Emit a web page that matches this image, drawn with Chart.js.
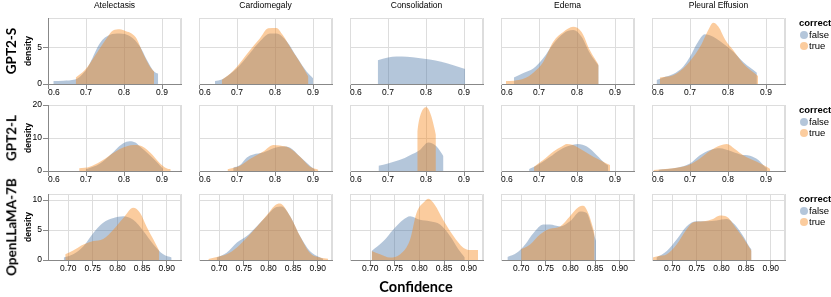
<!DOCTYPE html>
<html>
<head>
<meta charset="utf-8">
<script src="https://cdn.jsdelivr.net/npm/chart.js@4.4.1/dist/chart.umd.min.js"></script>
<style>
  body { margin:0; background:#fff; }
  #wrap { position:relative; width:831px; height:297px; overflow:hidden; font-family:'Liberation Sans', Arial, sans-serif; }
  #wrap canvas { position:absolute; }
  .txt { position:absolute; white-space:nowrap; color:#000; line-height:1; transform:translate(-50%,-50%); }
  .col-title { font-size:8.5px; }
  .row-title { font-family:Lato, 'Open Sans', sans-serif; font-weight:bold; font-size:13.5px; transform:translate(-50%,-50%) rotate(-90deg); }
  .x-title { font-family:Lato, 'Open Sans', sans-serif; font-weight:bold; font-size:14.5px; }
  .leg-title { font-weight:bold; font-size:9.5px; transform:translate(0,-50%); }
  .leg-label { font-size:9.5px; transform:translate(0,-50%); }
  .leg-dot { position:absolute; width:8px; height:8px; border-radius:50%; transform:translate(-50%,-50%); }
</style>
</head>
<body>
<div id="wrap"></div>
<script>
// rows / columns
const models = ['GPT2-S', 'GPT2-L', 'OpenLLaMA-7B'];
const findings = ['Atelectasis', 'Cardiomegaly', 'Consolidation', 'Edema', 'Pleural Effusion'];

// axes
const gpt2XRange = [0.6, 0.95];
const llamaXRange = [0.659, 0.929];
const gpt2XTicks = [0.6, 0.7, 0.8, 0.9];
const llamaXTicks = [0.70, 0.75, 0.80, 0.85, 0.90];
const yMaxByRow = [9, 20, 11];
const gpt2sYTicks = [0, 5];
const gpt2lYTicks = [0, 10, 20];
const llamaYTicks = [0, 5, 10];

// density curves, [confidence, density]
// GPT2-S
const gpt2sAtelFalse = [[0.614,0.4],[0.64,0.45],[0.671,0.6],[0.697,1.7],[0.71,2.8],[0.737,5.6],[0.763,6.7],[0.789,6.9],[0.816,6.5],[0.842,5.1],[0.86,3.3],[0.879,1.7],[0.89,1.4]];
const gpt2sAtelTrue = [[0.673,0.9],[0.697,1.9],[0.728,4.2],[0.754,6.2],[0.771,7.3],[0.789,7.45],[0.805,7.2],[0.82,6.9],[0.833,6.2],[0.85,4.2],[0.868,2.4],[0.879,1.7]];
const gpt2sCardFalse = [[0.642,0.4],[0.66,0.6],[0.69,1.7],[0.708,2.6],[0.734,4.2],[0.76,5.8],[0.787,6.9],[0.804,6.9],[0.831,5.8],[0.857,3.7],[0.883,1.7],[0.9,0.8]];
const gpt2sCardTrue = [[0.66,0.55],[0.69,1.8],[0.734,4.6],[0.76,6.2],[0.782,7.6],[0.804,7.65],[0.82,6.7],[0.845,4.6],[0.87,2.6],[0.888,1.0]];
const gpt2sConsFalse = [[0.673,3.25],[0.7,3.6],[0.723,3.75],[0.75,3.7],[0.78,3.55],[0.81,3.35],[0.84,3.05],[0.87,2.6],[0.903,2.05]];
const gpt2sConsTrue = [];
const gpt2sEdemaFalse = [[0.634,0.9],[0.659,1.5],[0.685,2.1],[0.711,3.5],[0.738,5.5],[0.764,6.9],[0.79,7.35],[0.812,6.45],[0.834,4.2],[0.857,2.5]];
const gpt2sEdemaTrue = [[0.613,0.4],[0.634,0.45],[0.659,0.7],[0.685,1.55],[0.711,3.0],[0.738,5.8],[0.764,7.1],[0.79,7.8],[0.812,7.1],[0.834,4.6],[0.857,2.6]];
const gpt2sEffFalse = [[0.612,0.55],[0.63,0.9],[0.656,1.35],[0.682,2.35],[0.7,3.7],[0.718,5.5],[0.739,6.8],[0.761,6.45],[0.788,5.5],[0.814,4.4],[0.84,3.0],[0.876,1.55]];
const gpt2sEffTrue = [[0.621,0.9],[0.656,1.2],[0.682,2.1],[0.709,3.7],[0.731,5.5],[0.748,7.35],[0.761,8.35],[0.775,7.8],[0.793,6.0],[0.814,4.6],[0.84,2.8],[0.879,1.1]];
// GPT2-L
const gpt2lAtelFalse = [[0.70,0.5],[0.737,2.3],[0.763,4.8],[0.78,6.7],[0.798,8.4],[0.815,9.0],[0.83,8.6],[0.842,7.4],[0.868,4.8],[0.89,2.3],[0.903,0.6]];
const gpt2lAtelTrue = [[0.682,0.8],[0.71,1.3],[0.737,2.8],[0.763,4.8],[0.789,6.7],[0.81,7.6],[0.824,7.9],[0.842,7.7],[0.868,5.7],[0.895,2.3],[0.912,0.8],[0.923,0.5]];
const gpt2lCardFalse = [[0.69,1.0],[0.708,1.8],[0.726,4.1],[0.743,5.0],[0.769,5.6],[0.796,6.9],[0.822,7.4],[0.839,7.1],[0.866,4.3],[0.892,1.6],[0.905,0.4]];
const gpt2lCardTrue = [[0.675,0.5],[0.708,1.6],[0.734,3.6],[0.769,5.9],[0.796,7.9],[0.813,7.7],[0.839,6.9],[0.866,4.3],[0.892,1.3],[0.914,0.4]];
const gpt2lConsFalse = [[0.675,1.6],[0.7,2.3],[0.73,3.3],[0.758,4.8],[0.784,6.4],[0.806,8.6],[0.828,7.4],[0.846,4.5]];
const gpt2lConsTrue = [[0.777,12],[0.781,15],[0.788,17.8],[0.795,19.1],[0.801,19.3],[0.808,18.4],[0.815,16.2],[0.821,13.5],[0.826,11]];
const gpt2lEdemaFalse = [[0.674,0.6],[0.703,2.3],[0.729,4.3],[0.755,6.4],[0.782,7.7],[0.803,8.2],[0.826,7.4],[0.852,4.8],[0.874,2.3],[0.882,1.7]];
const gpt2lEdemaTrue = [[0.687,1.3],[0.711,3.3],[0.738,5.9],[0.76,7.4],[0.773,8.2],[0.79,7.9],[0.817,6.1],[0.843,4.3],[0.869,2.8],[0.887,1.8]];
const gpt2lEffFalse = [[0.617,0.4],[0.665,1.0],[0.7,2.3],[0.726,4.8],[0.753,6.4],[0.779,6.9],[0.805,6.1],[0.832,5.0],[0.858,4.6],[0.88,3.3],[0.897,1.3],[0.902,0.9]];
const gpt2lEffTrue = [[0.604,0.3],[0.665,1.0],[0.7,2.0],[0.726,3.8],[0.753,6.1],[0.779,7.7],[0.797,8.2],[0.818,6.7],[0.84,4.8],[0.876,2.8],[0.897,1.6],[0.911,0.6]];
// OpenLLaMA-7B
const llamaAtelFalse = [[0.691,0.4],[0.71,0.95],[0.731,2.3],[0.751,4.5],[0.771,6.2],[0.792,7.0],[0.812,7.3],[0.832,6.7],[0.853,4.8],[0.873,2.6],[0.893,0.95],[0.91,0.4]];
const llamaAtelTrue = [[0.694,0.95],[0.71,1.6],[0.731,2.6],[0.751,3.15],[0.771,3.5],[0.792,5.1],[0.812,7.0],[0.832,8.7],[0.846,7.85],[0.859,5.6],[0.873,3.4],[0.885,1.5]];
const llamaCardFalse = [[0.695,0.4],[0.715,1.2],[0.736,2.9],[0.756,4.0],[0.776,5.6],[0.796,7.3],[0.813,8.7],[0.827,8.9],[0.844,7.3],[0.864,4.0],[0.884,1.5],[0.905,0.4],[0.911,0.2]];
const llamaCardTrue = [[0.678,0.15],[0.695,0.5],[0.715,0.95],[0.736,2.1],[0.756,3.7],[0.776,5.5],[0.796,7.4],[0.813,9.1],[0.823,9.4],[0.844,7.3],[0.864,4.0],[0.884,1.2],[0.905,0.4],[0.921,0.2]];
const llamaConsFalse = [[0.703,1.5],[0.727,3.15],[0.747,5.1],[0.767,6.7],[0.781,7.3],[0.801,6.7],[0.821,6.45],[0.842,5.9],[0.862,4.0],[0.879,1.8],[0.892,0.4]];
const llamaConsTrue = [[0.703,1.5],[0.72,0.95],[0.74,0.4],[0.761,0.95],[0.781,3.4],[0.794,7.85],[0.811,9.8],[0.818,10.2],[0.831,9.2],[0.848,6.7],[0.869,4.0],[0.889,2.05],[0.903,1.65],[0.919,1.65]];
const llamaEdemaFalse = [[0.672,0.5],[0.691,1.2],[0.708,2.6],[0.725,4.5],[0.745,5.9],[0.758,5.9],[0.779,5.6],[0.799,6.45],[0.82,8.1],[0.833,7.85],[0.843,5.6],[0.852,3.15]];
const llamaEdemaTrue = [[0.7,1.8],[0.718,2.6],[0.738,4.25],[0.758,5.2],[0.779,5.6],[0.799,7.3],[0.816,8.8],[0.826,9.05],[0.836,7.85],[0.845,5.6],[0.849,4.3]];
const llamaEffFalse = [[0.668,0.4],[0.689,1.5],[0.709,3.4],[0.729,5.6],[0.75,6.45],[0.77,6.45],[0.79,6.6],[0.811,6.85],[0.827,5.9],[0.844,4.0],[0.858,2.05],[0.861,1.8]];
const llamaEffTrue = [[0.66,0.4],[0.672,0.65],[0.689,0.95],[0.709,2.6],[0.729,5.1],[0.743,6.3],[0.763,6.45],[0.783,6.85],[0.797,7.4],[0.811,7.2],[0.827,5.6],[0.844,3.7],[0.861,1.5]];

const falseData = [
  [gpt2sAtelFalse, gpt2sCardFalse, gpt2sConsFalse, gpt2sEdemaFalse, gpt2sEffFalse],
  [gpt2lAtelFalse, gpt2lCardFalse, gpt2lConsFalse, gpt2lEdemaFalse, gpt2lEffFalse],
  [llamaAtelFalse, llamaCardFalse, llamaConsFalse, llamaEdemaFalse, llamaEffFalse]
];
const trueData = [
  [gpt2sAtelTrue, gpt2sCardTrue, gpt2sConsTrue, gpt2sEdemaTrue, gpt2sEffTrue],
  [gpt2lAtelTrue, gpt2lCardTrue, gpt2lConsTrue, gpt2lEdemaTrue, gpt2lEffTrue],
  [llamaAtelTrue, llamaCardTrue, llamaConsTrue, llamaEdemaTrue, llamaEffTrue]
];
const xRanges = [gpt2XRange, gpt2XRange, llamaXRange];
const xTickSets = [gpt2XTicks, gpt2XTicks, llamaXTicks];
const xDecimals = [1, 1, 2];
const yTickSets = [gpt2sYTicks, gpt2lYTicks, llamaYTicks];

// layout (page px)
const colLeft = [48, 199, 350, 501, 652];
const rowTop = [18, 105, 194];
const plotW = 133, plotH = 66, axisW = 48, padTop = 8, padRight = 4, axisH = 20;
const falseColor = 'rgba(76,120,168,0.42)';
const trueColor = 'rgba(245,133,24,0.42)';

Chart.defaults.font.family = "'Liberation Sans', Arial, sans-serif";
Chart.defaults.font.size = 8.5;
Chart.defaults.color = '#000';

const wrap = document.getElementById('wrap');

const frame = {
  id: 'frame',
  beforeDraw(chart){
    const a = chart.chartArea, ctx = chart.ctx;
    ctx.save();
    ctx.strokeStyle = '#ddd'; ctx.lineWidth = 1;
    ctx.beginPath();
    ctx.moveTo(a.left, a.top + 0.5);
    ctx.lineTo(a.right - 0.5, a.top + 0.5);
    ctx.lineTo(a.right - 0.5, a.bottom);
    ctx.stroke();
    ctx.restore();
  }
};

function addText(cls, text, x, y){
  const d = document.createElement('div');
  d.className = 'txt ' + cls;
  d.textContent = text;
  d.style.left = x + 'px'; d.style.top = y + 'px';
  wrap.appendChild(d);
  return d;
}

function toPts(arr){ return arr.map(p => ({x: p[0], y: p[1]})); }

function makeCell(r, c){
  const cv = document.createElement('canvas');
  cv.width = axisW + plotW + padRight; cv.height = padTop + plotH + axisH;
  cv.style.left = (colLeft[c] - axisW) + 'px';
  cv.style.top = (rowTop[r] - padTop) + 'px';
  wrap.appendChild(cv);

  const xr = xRanges[r], xt = xTickSets[r], first = c === 0;
  const xAll = [...new Set([xr[0], ...xt, xr[1]])];
  const area = {fill: 'origin', borderWidth: 0, pointRadius: 0, cubicInterpolationMode: 'monotone'};

  new Chart(cv, {
    type: 'line',
    data: { datasets: [
      Object.assign({label: 'false', data: toPts(falseData[r][c]), backgroundColor: falseColor, order: 1}, area),
      Object.assign({label: 'true', data: toPts(trueData[r][c]), backgroundColor: trueColor, order: 0}, area)
    ]},
    options: {
      responsive: false, animation: false, devicePixelRatio: 1, events: [],
      layout: {padding: {top: padTop, right: padRight, left: 0, bottom: 0}},
      plugins: {legend: {display: false}, tooltip: {enabled: false}},
      scales: {
        x: {
          type: 'linear', min: xr[0], max: xr[1],
          afterBuildTicks: s => { s.ticks = xAll.map(v => ({value: v})); },
          afterFit: s => { s.height = axisH; },
          border: {color: '#888', z: 1},
          grid: {color: '#ddd', tickLength: 5, tickColor: ctx => xt.includes(ctx.tick && ctx.tick.value) ? '#888' : 'rgba(0,0,0,0)'},
          ticks: {align: 'inner', autoSkip: false, maxRotation: 0, padding: -1,
            callback: v => xt.includes(v) ? v.toFixed(xDecimals[r]) : ''}
        },
        y: {
          min: 0, max: yMaxByRow[r],
          afterBuildTicks: s => { s.ticks = yTickSets[r].map(v => ({value: v})); },
          afterFit: s => { s.width = axisW; },
          border: {color: first ? '#888' : '#ddd', z: 1},
          grid: {color: '#ddd', tickColor: '#888', tickLength: 5, drawTicks: first},
          ticks: {display: first, padding: 1},
          title: {display: first, text: 'density', font: {weight: 'bold', size: 8.5}, padding: {top: 24, bottom: 0}}
        }
      }
    },
    plugins: [frame]
  });
}

for(let r = 0; r < models.length; r++){
  for(let c = 0; c < findings.length; c++) makeCell(r, c);
  addText('row-title', models[r], 12, rowTop[r] + plotH / 2);
  // legend
  addText('leg-title', 'correct', 799, rowTop[r] + 4.5);
  [['false', falseColor], ['true', trueColor]].forEach((e, i) => {
    const y = rowTop[r] + 16.5 + i * 11.5;
    const dot = document.createElement('div');
    dot.className = 'leg-dot';
    dot.style.left = '803.5px'; dot.style.top = y + 'px'; dot.style.background = e[1];
    wrap.appendChild(dot);
    addText('leg-label', e[0], 809, y);
  });
}
findings.forEach((f, c) => addText('col-title', f, colLeft[c] + plotW / 2, 5));
addText('x-title', 'Confidence', 416, 287);
</script>
</body>
</html>
